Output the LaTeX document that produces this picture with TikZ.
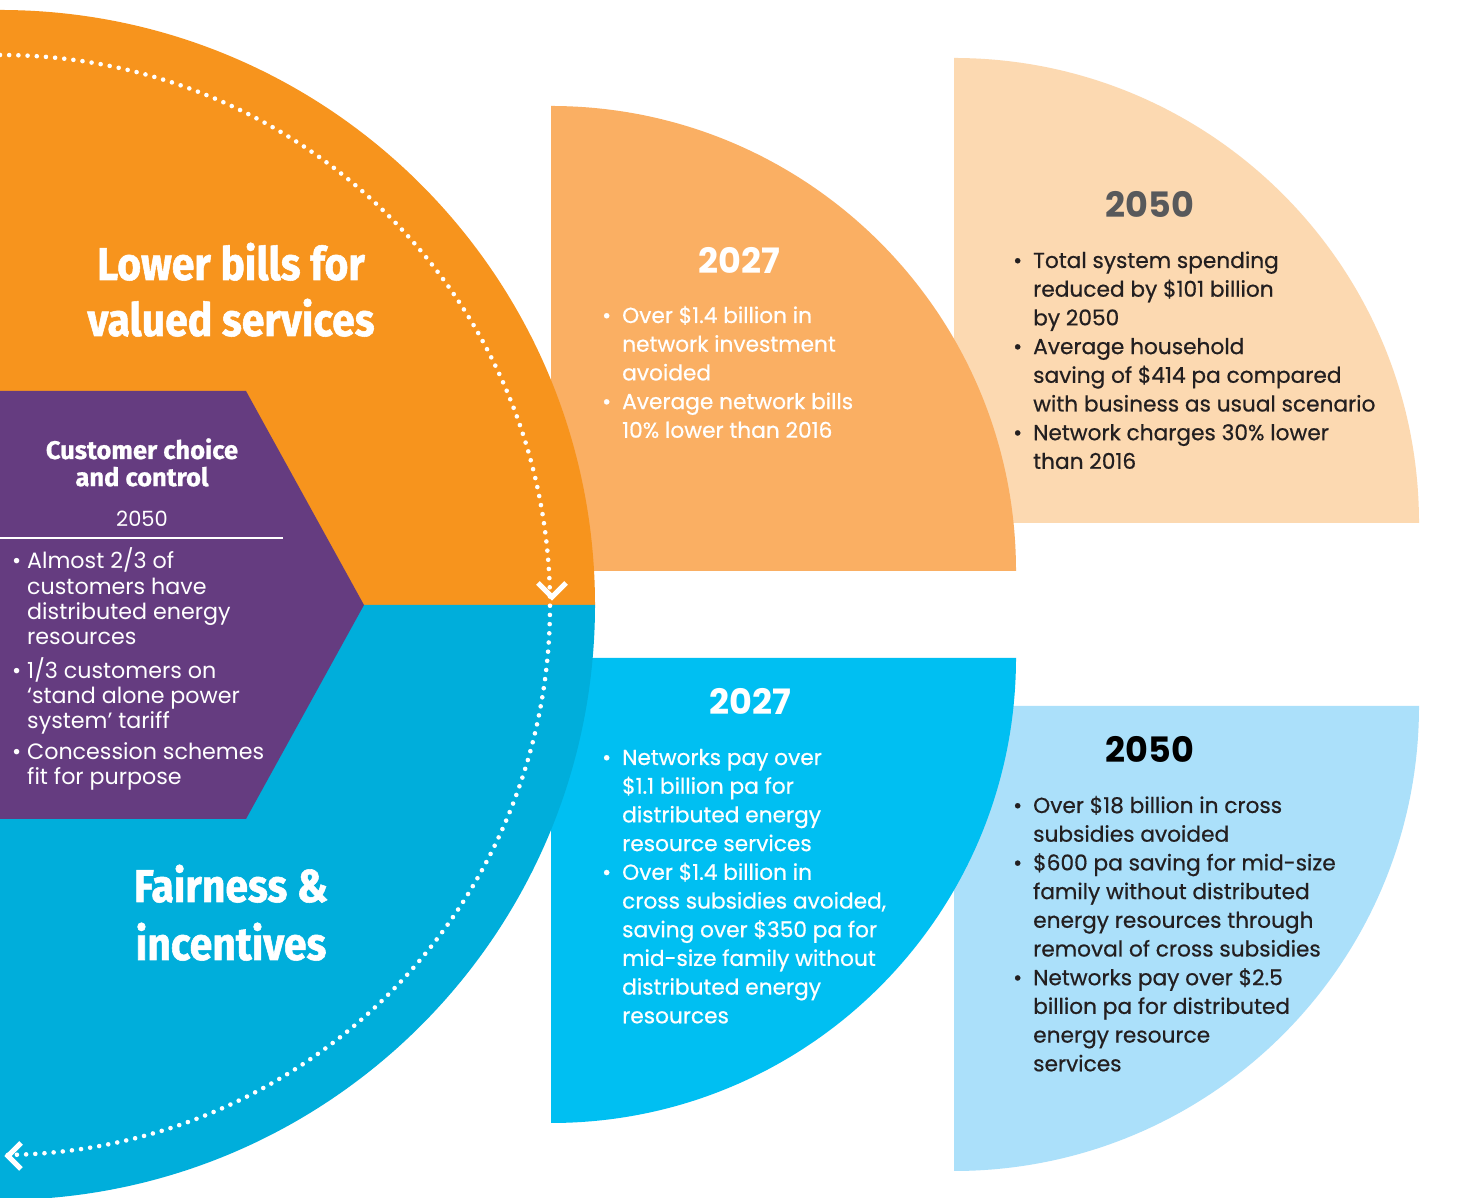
\documentclass[tikz,border=0pt]{standalone}
\usepackage{fontspec}
\setmainfont{Poppins}
\newfontfamily\bodyfont[FakeBold=0.6]{Poppins}
\newfontfamily\headfont[FakeStretch=0.89,FakeBold=1.2]{Fira Sans}
\newfontfamily\subheadfont[FakeStretch=1.0,FakeBold=0.8]{Fira Sans}
\definecolor{orangeM}{HTML}{F7941D}
\definecolor{blueM}{HTML}{00AEDB}
\definecolor{purpleM}{HTML}{653C80}
\definecolor{lorange}{HTML}{FAAF63}
\definecolor{pale}{HTML}{FCD9B1}
\definecolor{cyanS}{HTML}{00BFF2}
\definecolor{lblue}{HTML}{ABE0FA}
\definecolor{grayT}{HTML}{58595B}
\definecolor{blackT}{HTML}{231F20}
\newcommand{\bl}{\textbullet &}
\begin{document}
\begin{tikzpicture}[x=1pt,y=1pt,
  body/.style={anchor=base west, inner sep=0pt, font=\bodyfont\fontsize{21.7}{28.7}\selectfont},
  year/.style={anchor=base, inner sep=0pt, font=\bfseries\fontsize{35}{40}\selectfont},
  head/.style={anchor=base, inner sep=0pt, text=white, font=\headfont\bfseries\fontsize{46}{56}\selectfont},
  chev/.style={white, line width=5pt}
]
\useasboundingbox (0,0) rectangle (1474,1198);
\fill[white] (0,0) rectangle (1474,1198);
% sectors
\fill[pale] (954,675) -- (1419,675) arc[start angle=0, end angle=90, radius=465] -- cycle;
\fill[lorange] (551,627) -- (1016,627) arc[start angle=0, end angle=90, radius=465] -- cycle;
\fill[lblue] (954,492) -- (1419,492) arc[start angle=0, end angle=-90, radius=465] -- cycle;
\fill[cyanS] (551,540) -- (1016,540) arc[start angle=0, end angle=-90, radius=465] -- cycle;
% big circle
\fill[orangeM] (0,593) -- (595,593) arc[start angle=0, end angle=90, radius=595] -- cycle;
\fill[blueM] (0,593) -- (595,593) arc[start angle=0, end angle=-90, radius=595] -- cycle;
% purple
\fill[purpleM] (0,807) -- (246,807) -- (364,593) -- (246,379) -- (0,379) -- cycle;
% dotted arc
\draw[white, line width=4.6pt, line cap=round, dash pattern=on 0pt off 9.2pt]
  (0,1143) arc[start angle=90, end angle=-90, radius=550];
\draw[chev] (538,615) -- (552,601) -- (566,615);
\draw[chev] (21,55) -- (8,42) -- (21,29);
% headings
\node[head] (h1) at (231,918) {\begin{tabular}[t]{@{}c@{}}Lower bills for\\valued services\end{tabular}};
\node[head, font=\headfont\bfseries\fontsize{46}{58}\selectfont] (h2) at (231,296) {\begin{tabular}[t]{@{}c@{}}Fairness \&\\incentives\end{tabular}};
% purple content
\node[anchor=base, inner sep=0pt, text=white, font=\subheadfont\bfseries\fontsize{25.5}{26}\selectfont] (cc) at (142,739)
  {\begin{tabular}[t]{@{}c@{}}Customer choice\\and control\end{tabular}};
\node[anchor=base, inner sep=0pt, text=white, font=\fontsize{21}{25}\selectfont] (cy) at (142,671) {2050};
\coordinate (l0) at (0,660);
\coordinate (l1) at (283,660);
\draw[white, line width=2.5pt] (l0) -- (l1);
\node[anchor=base west, inner sep=0pt, text=white, font=\fontsize{22.2}{25.3}\selectfont] (pb) at (12,629)
  {\begin{tabular}[t]{@{}p{15pt}@{}l@{}}
  \bl Almost 2/3 of\\ & customers have\\ & distributed energy\\ & resources\\[5pt]
  \bl 1/3 customers on\\ & ‘stand alone power\\ & system’ tariff\\[5pt]
  \bl Concession schemes\\ & fit for purpose
  \end{tabular}};
% 2027 orange
\node[year, text=white] (y1) at (739,924) {2027};
\node[body, text=white] (t1) at (602,875)
  {\begin{tabular}[t]{@{}p{20pt}@{}l@{}}
  \bl Over \$1.4 billion in\\ & network investment\\ & avoided\\
  \bl Average network bills\\ & 10\% lower than 2016
  \end{tabular}};
% 2050 pale
\node[year, text=grayT] (y2) at (1150,980) {2050};
\node[body, text=blackT] (t2) at (1013,930)
  {\begin{tabular}[t]{@{}p{20pt}@{}l@{}}
  \bl Total system spending\\ & reduced by \$101 billion\\ & by 2050\\
  \bl Average household\\ & saving of \$414 pa compared\\ & with business as usual scenario\\
  \bl Network charges 30\% lower\\ & than 2016
  \end{tabular}};
% 2027 cyan
\node[year, text=white] (y3) at (750,483) {2027};
\node[body, text=white] (t3) at (602,433)
  {\begin{tabular}[t]{@{}p{20pt}@{}l@{}}
  \bl Networks pay over\\ & \$1.1 billion pa for\\ & distributed energy\\ & resource services\\
  \bl Over \$1.4 billion in\\ & cross subsidies avoided,\\ & saving over \$350 pa for\\ & mid-size family without\\ & distributed energy\\ & resources
  \end{tabular}};
% 2050 light blue
\node[year, text=black] (y4) at (1150,435) {2050};
\node[body, text=blackT] (t4) at (1013,385)
  {\begin{tabular}[t]{@{}p{20pt}@{}l@{}}
  \bl Over \$18 billion in cross\\ & subsidies avoided\\
  \bl \$600 pa saving for mid-size\\ & family without distributed\\ & energy resources through\\ & removal of cross subsidies\\
  \bl Networks pay over \$2.5\\ & billion pa for distributed\\ & energy resource\\ & services
  \end{tabular}};
\end{tikzpicture}
\end{document}
